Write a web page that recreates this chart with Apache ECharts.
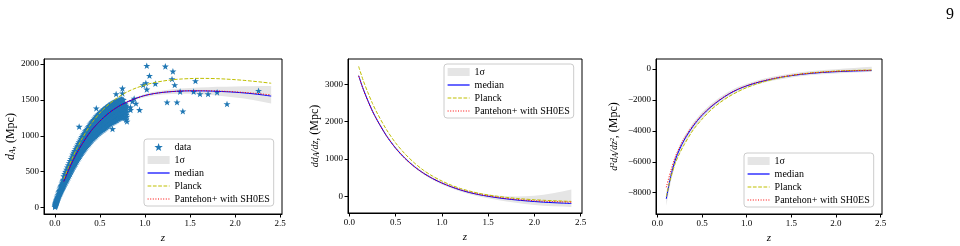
<!DOCTYPE html>
<html>
<head>
<meta charset="utf-8">
<script src="https://cdn.jsdelivr.net/npm/echarts@6/dist/echarts.min.js"></script>
<style>
html, body { margin: 0; padding: 0; background: #fff; }
#chart { width: 960px; height: 246px; }
</style>
</head>
<body>
<div id="chart"></div>
<script>
// redshift grid for the model curves
var zGrid = [0.1, 0.15, 0.2, 0.25, 0.3, 0.4, 0.5, 0.6, 0.7, 0.8, 0.9, 1.0, 1.1, 1.2, 1.3, 1.4, 1.5, 1.6, 1.7, 1.8, 1.9, 2.0, 2.1, 2.2, 2.3, 2.4];

// d_A (Mpc)
var dAMedian   = [365, 515, 650, 770, 880, 1065, 1205, 1318, 1405, 1470, 1522, 1562, 1588, 1605, 1616, 1623, 1626, 1626, 1624, 1620, 1614, 1607, 1597, 1585, 1570, 1553];
var dAPlanck   = [395, 557, 705, 835, 955, 1160, 1318, 1440, 1535, 1610, 1665, 1708, 1740, 1763, 1780, 1791, 1797, 1800, 1799, 1796, 1790, 1782, 1772, 1760, 1747, 1732];
var dAPantheon = [364, 514, 649, 769, 879, 1064, 1204, 1317, 1404, 1469, 1521, 1561, 1588, 1606, 1617, 1624, 1628, 1628, 1627, 1624, 1619, 1612, 1604, 1594, 1582, 1569];
var dALow      = [350, 500, 635, 755, 865, 1050, 1190, 1303, 1390, 1453, 1502, 1538, 1560, 1575, 1583, 1586, 1585, 1580, 1572, 1562, 1549, 1535, 1518, 1498, 1475, 1450];
var dAHigh     = [380, 530, 665, 785, 895, 1080, 1220, 1333, 1420, 1487, 1540, 1584, 1612, 1632, 1647, 1658, 1665, 1672, 1678, 1682, 1685, 1688, 1690, 1692, 1693, 1695];

// d d_A / dz
var d1Median   = [3230, 2870, 2560, 2280, 2040, 1625, 1290, 1020, 800, 620, 475, 355, 255, 170, 100, 45, 0, -38, -70, -97, -120, -140, -157, -170, -182, -192];
var d1Planck   = [3480, 3100, 2780, 2485, 2230, 1790, 1430, 1140, 900, 700, 540, 410, 300, 210, 140, 80, 35, 0, -30, -55, -75, -92, -106, -118, -128, -137];
var d1Pantheon = [3225, 2865, 2555, 2278, 2038, 1623, 1288, 1019, 800, 621, 477, 358, 259, 176, 107, 53, 10, -27, -58, -84, -104, -120, -132, -142, -150, -157];
var d1Low      = [3180, 2825, 2520, 2240, 2005, 1590, 1255, 985, 765, 585, 440, 318, 215, 128, 55, -5, -55, -100, -140, -175, -205, -230, -250, -265, -275, -285];
var d1High     = [3280, 2915, 2600, 2320, 2075, 1660, 1325, 1055, 835, 655, 510, 392, 295, 212, 145, 95, 55, 25, 5, -5, 0, 15, 45, 85, 130, 180];

// d^2 d_A / dz^2
var d2Median   = [-8400, -6950, -5900, -5180, -4600, -3700, -3000, -2450, -2000, -1620, -1320, -1090, -910, -760, -630, -520, -430, -355, -295, -245, -205, -175, -150, -128, -112, -100];
var d2Planck   = [-8250, -7050, -6100, -5450, -4900, -3950, -3250, -2650, -2180, -1790, -1470, -1200, -990, -810, -660, -530, -420, -330, -265, -210, -170, -135, -110, -90, -75, -62];
var d2Pantheon = [-7650, -6600, -5700, -5050, -4500, -3640, -2960, -2420, -1980, -1610, -1310, -1080, -890, -740, -610, -500, -410, -335, -275, -225, -185, -152, -128, -108, -92, -80];
var d2Low      = [-8850, -7300, -6200, -5450, -4850, -3920, -3200, -2630, -2170, -1780, -1470, -1230, -1040, -880, -750, -640, -550, -470, -410, -360, -320, -285, -255, -230, -205, -185];
var d2High     = [-7950, -6600, -5600, -4920, -4350, -3480, -2800, -2270, -1830, -1460, -1170, -950, -770, -620, -490, -380, -290, -210, -150, -100, -55, -15, 25, 70, 110, 150];

// supernova points (z, d_A), read column by column off the scatter cloud
var snData = [
  [0.002,10],[0.004,18],[0.006,25],[0.006,38],[0.008,30],[0.008,48],[0.01,40],[0.01,58],[0.012,45],[0.012,68],
  [0.014,52],[0.014,78],[0.016,60],[0.016,88],[0.018,68],[0.018,98],[0.02,75],[0.02,108],[0.023,85],[0.023,122],
  [0.026,95],[0.026,138],[0.03,108],[0.03,155],[0.035,125],[0.035,175],[0.04,140],[0.04,195],[0.045,155],[0.045,215],
  [0.05,170],[0.05,232],[0.055,185],[0.055,250],[0.06,198],[0.06,268],[0.065,212],[0.065,285],[0.07,225],[0.07,302],
  [0.075,240],[0.075,318],[0.08,252],[0.08,335],[0.085,265],[0.085,350],[0.09,278],[0.09,368],[0.095,290],[0.095,385],
  [0.1,300],[0.1,345],[0.1,392],[0.1,440],
  [0.11,322],[0.11,370],[0.11,420],[0.11,470],
  [0.12,345],[0.12,395],[0.12,448],[0.12,500],
  [0.13,370],[0.13,422],[0.13,476],[0.13,530],
  [0.14,395],[0.14,450],[0.14,505],[0.14,560],
  [0.15,420],[0.15,475],[0.15,532],[0.15,590],
  [0.16,445],[0.16,500],[0.16,560],[0.16,620],
  [0.17,470],[0.17,526],[0.17,588],[0.17,650],
  [0.18,495],[0.18,552],[0.18,615],[0.18,680],
  [0.19,520],[0.19,576],[0.19,638],[0.19,700],
  [0.2,545],[0.2,600],[0.2,660],[0.2,715],[0.2,740],
  [0.21,568],[0.21,620],[0.21,678],[0.21,730],[0.21,765],
  [0.22,590],[0.22,640],[0.22,695],[0.22,745],[0.22,790],
  [0.23,612],[0.23,662],[0.23,716],[0.23,768],[0.23,815],
  [0.24,635],[0.24,685],[0.24,738],[0.24,790],[0.24,840],
  [0.25,658],[0.25,708],[0.25,760],[0.25,812],[0.25,865],
  [0.26,680],[0.26,730],[0.26,782],[0.26,835],[0.26,890],
  [0.27,700],[0.27,751],[0.27,804],[0.27,858],[0.27,912],
  [0.28,720],[0.28,772],[0.28,825],[0.28,880],[0.28,935],
  [0.29,740],[0.29,792],[0.29,846],[0.29,900],[0.29,960],
  [0.3,760],[0.3,812],[0.3,866],[0.3,922],[0.3,985],
  [0.31,778],[0.31,830],[0.31,886],[0.31,942],[0.31,1005],
  [0.32,795],[0.32,848],[0.32,905],[0.32,962],[0.32,1025],
  [0.33,812],[0.33,866],[0.33,922],[0.33,982],[0.33,1045],
  [0.34,830],[0.34,885],[0.34,940],[0.34,1000],[0.34,1065],
  [0.35,848],[0.35,902],[0.35,958],[0.35,1020],[0.35,1082],
  [0.36,865],[0.36,918],[0.36,975],[0.36,1038],[0.36,1100],
  [0.37,880],[0.37,934],[0.37,992],[0.37,1056],[0.37,1120],
  [0.38,895],[0.38,950],[0.38,1010],[0.38,1075],[0.38,1140],
  [0.39,910],[0.39,965],[0.39,1025],[0.39,1092],[0.39,1158],
  [0.4,925],[0.4,980],[0.4,1040],[0.4,1108],[0.4,1175],
  [0.41,940],[0.41,995],[0.41,1056],[0.41,1124],[0.41,1190],
  [0.42,955],[0.42,1010],[0.42,1072],[0.42,1140],[0.42,1205],
  [0.43,968],[0.43,1023],[0.43,1086],[0.43,1155],[0.43,1222],
  [0.44,980],[0.44,1036],[0.44,1100],[0.44,1170],[0.44,1240],
  [0.45,992],[0.45,1049],[0.45,1114],[0.45,1184],[0.45,1255],
  [0.46,1005],[0.46,1062],[0.46,1128],[0.46,1198],[0.46,1270],
  [0.47,1018],[0.47,1075],[0.47,1140],[0.47,1210],[0.47,1282],
  [0.48,1030],[0.48,1088],[0.48,1152],[0.48,1222],[0.48,1295],
  [0.49,1040],[0.49,1099],[0.49,1163],[0.49,1235],[0.49,1308],
  [0.5,1050],[0.5,1110],[0.5,1175],[0.5,1248],[0.5,1320],
  [0.51,1060],[0.51,1120],[0.51,1186],[0.51,1259],[0.51,1330],
  [0.52,1070],[0.52,1130],[0.52,1198],[0.52,1270],[0.52,1340],
  [0.53,1080],[0.53,1141],[0.53,1209],[0.53,1281],[0.53,1352],
  [0.54,1090],[0.54,1152],[0.54,1220],[0.54,1292],[0.54,1365],
  [0.55,1100],[0.55,1162],[0.55,1230],[0.55,1302],[0.55,1375],
  [0.56,1110],[0.56,1172],[0.56,1240],[0.56,1312],[0.56,1385],
  [0.57,1120],[0.57,1182],[0.57,1250],[0.57,1322],[0.57,1395],
  [0.58,1130],[0.58,1192],[0.58,1260],[0.58,1332],[0.58,1405],
  [0.59,1140],[0.59,1202],[0.59,1270],[0.59,1342],[0.59,1415],
  [0.6,1150],[0.6,1212],[0.6,1280],[0.6,1352],[0.6,1425],
  [0.61,1160],[0.61,1222],[0.61,1289],[0.61,1361],[0.61,1432],
  [0.62,1170],[0.62,1232],[0.62,1298],[0.62,1370],[0.62,1440],
  [0.63,1178],[0.63,1240],[0.63,1306],[0.63,1378],[0.63,1448],
  [0.64,1185],[0.64,1248],[0.64,1315],[0.64,1385],[0.64,1455],
  [0.65,1192],[0.65,1255],[0.65,1322],[0.65,1392],[0.65,1462],
  [0.66,1200],[0.66,1262],[0.66,1330],[0.66,1400],[0.66,1470],
  [0.67,1208],[0.67,1270],[0.67,1338],[0.67,1406],[0.67,1475],
  [0.68,1215],[0.68,1278],[0.68,1345],[0.68,1412],[0.68,1480],
  [0.69,1222],[0.69,1285],[0.69,1351],[0.69,1418],[0.69,1485],
  [0.7,1230],[0.7,1292],[0.7,1358],[0.7,1425],[0.7,1490],
  [0.71,1238],[0.71,1298],[0.71,1364],[0.71,1430],[0.71,1495],
  [0.72,1245],[0.72,1305],[0.72,1370],[0.72,1436],[0.72,1500],
  [0.73,1250],[0.73,1312],[0.73,1376],[0.73,1441],[0.73,1505],
  [0.74,1255],[0.74,1318],[0.74,1382],[0.74,1446],[0.74,1510],
  [0.75,1260],[0.75,1322],[0.75,1385],[0.75,1448],[0.75,1505],
  [0.76,1265],[0.76,1325],[0.76,1388],[0.76,1450],[0.76,1500],
  [0.77,1258],[0.77,1322],[0.77,1384],[0.77,1445],
  [0.78,1250],[0.78,1318],[0.78,1380],[0.78,1440],
  [0.79,1225],[0.79,1292],[0.79,1358],[0.79,1420],
  [0.8,1200],[0.8,1268],[0.8,1335],[0.8,1400],
  [0.27,1128],[0.46,1383],[0.64,1095],[0.68,1582],[0.75,1592],[0.75,1661],
  [0.84,1397],[0.84,1360],[0.86,1480],[0.88,1520],[0.9,1450],[0.94,1360],[0.98,1708],[1.01,1735],[1.02,1976],
  [1.05,1837],[1.02,1647],[1.115,1726],[1.226,1968],[1.31,1898],[1.3,1791],[1.33,1708],[1.245,1467],[1.355,1467],
  [1.42,1342],[1.39,1615],[1.54,1615],[1.56,1763],[1.61,1582],[1.7,1582],[1.8,1606],[1.91,1443],[2.26,1628]
];

var xTicks = [0, 0.5, 1.0, 1.5, 2.0, 2.5];
var yTicks1 = [0, 500, 1000, 1500, 2000];
var yTicks2 = [0, 1000, 2000, 3000];
var yTicks3 = [-8000, -6000, -4000, -2000, 0];

var SERIF = '"Liberation Serif", "DejaVu Serif", serif';
var STAR = 'path://M0,-10L2.35,-3.24L9.51,-3.09L3.8,1.24L5.88,8.09L0,4L-5.88,8.09L-3.8,1.24L-9.51,-3.09L-2.35,-3.24Z';

function pairs(ys) {
    return zGrid.map(function (z, i) { return [z, ys[i]]; });
}

function fmtNum(v) {
    return String(v).replace('-', '\u2212');
}

function makeX(idx, min, max) {
    return {
        gridIndex: idx, type: 'value', min: min, max: max,
        name: 'z', nameLocation: 'middle', nameGap: 18,
        nameTextStyle: { fontFamily: SERIF, fontStyle: 'italic', fontSize: 11, color: '#000' },
        axisLine: { show: true, onZero: false, lineStyle: { color: '#000', width: 1 } },
        axisTick: { show: true, length: 3.5, customValues: xTicks, lineStyle: { color: '#000' } },
        axisLabel: { customValues: xTicks, margin: 5, fontFamily: SERIF, fontSize: 9, color: '#000',
            formatter: function (v) { return v.toFixed(1); } },
        splitLine: { show: false }
    };
}

function makeY(idx, min, max, ticks, name, gap) {
    return {
        gridIndex: idx, type: 'value', min: min, max: max,
        name: name, nameLocation: 'middle', nameRotate: 90, nameGap: gap,
        nameTextStyle: {
            fontFamily: SERIF, fontSize: 12, color: '#000',
            rich: {
                i: { fontFamily: SERIF, fontStyle: 'italic', fontSize: 12, color: '#000' },
                f: { fontFamily: SERIF, fontStyle: 'italic', fontSize: 10, color: '#000' },
                s: { fontFamily: SERIF, fontStyle: 'italic', fontSize: 8, color: '#000', verticalAlign: 'bottom' },
                n: { fontFamily: SERIF, fontSize: 12, color: '#000' }
            }
        },
        axisLine: { show: true, onZero: false, lineStyle: { color: '#000', width: 1 } },
        axisTick: { show: true, length: 3.5, customValues: ticks, lineStyle: { color: '#000' } },
        axisLabel: { customValues: ticks, margin: 5, fontFamily: SERIF, fontSize: 9, color: '#000',
            formatter: fmtNum },
        splitLine: { show: false }
    };
}

function bandSeries(idx, lower, upper) {
    return {
        name: '1\u03c3', type: 'custom', xAxisIndex: idx, yAxisIndex: idx,
        data: [[zGrid[0], lower[0]]], z: 1, silent: true,
        itemStyle: { color: '#e5e5e5' },
        renderItem: function (params, api) {
            var pts = [];
            for (var i = 0; i < zGrid.length; i++) pts.push(api.coord([zGrid[i], upper[i]]));
            for (var j = zGrid.length - 1; j >= 0; j--) pts.push(api.coord([zGrid[j], lower[j]]));
            return { type: 'polygon', shape: { points: pts }, style: { fill: '#e5e5e5' } };
        }
    };
}

function lineSeries(idx, name, ys, color, type, zz) {
    return {
        name: name, type: 'line', xAxisIndex: idx, yAxisIndex: idx,
        data: pairs(ys), showSymbol: false, symbol: 'none', smooth: 0.3, z: zz, silent: true,
        lineStyle: { color: color, width: 1, type: type },
        itemStyle: { color: color }
    };
}

function makeLegend(left, top, names) {
    return {
        orient: 'vertical', left: left, top: top, selectedMode: false,
        itemWidth: 22, itemHeight: 8, itemGap: 3,
        padding: [3, 4, 2, 3],
        backgroundColor: 'rgba(255,255,255,0.85)', borderColor: '#cccccc', borderWidth: 1, borderRadius: 3,
        lineStyle: { width: 1.2 },
        textStyle: { fontFamily: SERIF, fontSize: 10, color: '#000' },
        data: names
    };
}

// line entries: hide the marker that ECharts puts in the middle of a line icon
var noMark = { opacity: 0 };
var legendLines = [
    { name: '1\u03c3', icon: 'rect' },
    { name: 'median', itemStyle: noMark },
    { name: 'Planck', itemStyle: noMark },
    { name: 'Pantehon+ with SH0ES', itemStyle: noMark }
];

var chart = echarts.init(document.getElementById('chart'), null, { renderer: 'canvas' });

chart.setOption({
    animation: false,
    backgroundColor: '#fff',
    title: { text: '9', left: 941, top: 2, textStyle: { fontFamily: SERIF, fontSize: 16, fontWeight: 'normal', color: '#000' } },
    grid: [
        { left: 44, top: 59, width: 238, height: 155, show: true, borderColor: '#000', borderWidth: 1, backgroundColor: 'transparent', outerBoundsMode: 'none' },
        { left: 348, top: 59, width: 234, height: 154, show: true, borderColor: '#000', borderWidth: 1, backgroundColor: 'transparent', outerBoundsMode: 'none' },
        { left: 656, top: 59, width: 226, height: 155, show: true, borderColor: '#000', borderWidth: 1, backgroundColor: 'transparent', outerBoundsMode: 'none' }
    ],
    xAxis: [makeX(0, -0.12, 2.52), makeX(1, -0.015, 2.515), makeX(2, -0.015, 2.515)],
    yAxis: [
        makeY(0, -90, 2070, yTicks1, '{i|d}{s|A}{n|, (Mpc)}', 24),
        makeY(1, -447, 3678, yTicks2, '{f|dd}{s|A}{f|/dz}{n|, (Mpc)}', 27),
        makeY(2, -9378, 647, yTicks3, '{f|d\u00b2d}{s|A}{f|/dz\u00b2}{n|, (Mpc)}', 36)
    ],
    legend: [
        makeLegend(144, 139, [{ name: 'data', icon: STAR, itemStyle: { opacity: 1 } }].concat(legendLines)),
        makeLegend(444, 64, legendLines),
        makeLegend(744, 153, legendLines)
    ],
    series: [
        {
            name: 'data', type: 'scatter', xAxisIndex: 0, yAxisIndex: 0, data: snData,
            symbol: STAR, symbolSize: 7, symbolKeepAspect: true, z: 2, silent: true,
            itemStyle: { color: '#1f77b4', opacity: 1 }
        },
        bandSeries(0, dALow, dAHigh),
        lineSeries(0, 'median', dAMedian, '#0000ff', 'solid', 3),
        lineSeries(0, 'Planck', dAPlanck, '#bfbf00', [3.7, 1.6], 4),
        lineSeries(0, 'Pantehon+ with SH0ES', dAPantheon, '#ff0000', [1, 1.6], 5),

        bandSeries(1, d1Low, d1High),
        lineSeries(1, 'median', d1Median, '#0000ff', 'solid', 3),
        lineSeries(1, 'Planck', d1Planck, '#bfbf00', [3.7, 1.6], 4),
        lineSeries(1, 'Pantehon+ with SH0ES', d1Pantheon, '#ff0000', [1, 1.6], 5),

        bandSeries(2, d2Low, d2High),
        lineSeries(2, 'median', d2Median, '#0000ff', 'solid', 3),
        lineSeries(2, 'Planck', d2Planck, '#bfbf00', [3.7, 1.6], 4),
        lineSeries(2, 'Pantehon+ with SH0ES', d2Pantheon, '#ff0000', [1, 1.6], 5)
    ]
});
</script>
</body>
</html>
